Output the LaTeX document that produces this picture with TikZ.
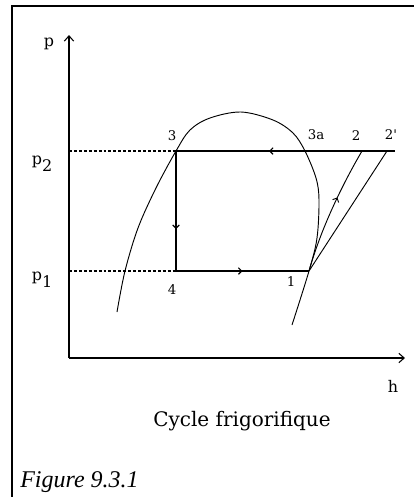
\documentclass[tikz,border=0pt]{standalone}
\usepackage{fontspec}
\setmainfont{DejaVu Serif}
\newfontfamily\capfont{Liberation Serif}
\usetikzlibrary{arrows.meta, calc, decorations.markings, positioning}

\tikzset{
    axisline/.style={line width=0.8pt, -{Straight Barb[length=4pt,width=7pt]}},
    cycleline/.style={line width=0.8pt},
    satcurve/.style={line width=0.7pt},
    guideline/.style={line width=0.8pt, dash pattern=on 2.2pt off 1.5pt},
    midarrow/.style={postaction={decorate}, decoration={markings,
        mark=at position #1 with {\arrow{Straight Barb[length=2.5pt,width=5pt]}}}},
    ptlabel/.style={inner sep=0pt, font=\fontsize{10}{12}\selectfont},
    axlabel/.style={inner sep=0pt, font=\fontsize{12}{14}\selectfont}
}

\begin{document}
\begin{tikzpicture}[x=0.75pt, y=-0.75pt]
    \useasboundingbox (0,0) rectangle (414,497);

    % Frame
    \draw[line width=1.5pt] (12,497) -- (12,5.5) -- (414,5.5);

    % Axes
    \coordinate (O) at (69,358);
    \draw[axisline] (O) -- (69,35);
    \draw[axisline] (O) -- (405,358);
    \node[axlabel] (ylab) at (49,44) {p};
    \node[axlabel] (xlab) at (393,386) {h};

    % Cycle points
    \coordinate (n3) at (176,151);
    \coordinate (n3a) at (305,151);
    \coordinate (n2) at (362,151);
    \coordinate (n2s) at (387,151);
    \coordinate (n4) at (176,271);
    \coordinate (n1) at (309,271);
    \coordinate (pa2) at (69,151);
    \coordinate (pa1) at (69,271);
    \coordinate (pend) at (395,151);

    % Pressure levels
    \draw[guideline] (pa2) -- (n3);
    \draw[guideline] (pa1) -- (n4);
    \node[axlabel] (lp2) at (42,164) {p\raisebox{-0.8ex}{2}};
    \node[axlabel] (lp1) at (42,280) {p\raisebox{-0.8ex}{1}};

    % Saturation curve
    \draw[satcurve] plot[smooth, tension=0.55] coordinates {
        (117,312) (125,271) (138,228) (156,188) (n3)
        (190,130) (210,118) (241,112) (273,120) (293,133) (n3a)
        (316,178) (319,200) (317,238) (n1) (292,325)};

    % Cycle
    \draw[cycleline, midarrow=0.5] (n2) -- (n3);
    \draw[cycleline] (n2s) -- (pend);
    \draw[cycleline] (n2) -- (n2s);
    \draw[cycleline, midarrow=0.65] (n3) -- (n4);
    \draw[cycleline, midarrow=0.5] (n4) -- (n1);
    \draw[satcurve, midarrow=0.6] (n1) .. controls (322,225) and (345,180) .. (n2);
    \draw[satcurve] (n1) -- (n2s);

    % Labels
    \node[ptlabel] (l3) at (172,136) {3};
    \node[ptlabel] (l3a) at (316,135) {3a};
    \node[ptlabel] (l2) at (356,136) {2};
    \node[ptlabel] (l2s) at (391,135) {2\textquotesingle};
    \node[ptlabel] (l4) at (172,290) {4};
    \node[ptlabel] (l1) at (291,282) {1};

    \node (title) at (242,421) {\fontsize{15}{18}\selectfont Cycle frigorifique};
    \node[anchor=base west, inner sep=0pt] (figlab) at (20,487)
        {\capfont\itshape\fontsize{18}{21}\selectfont Figure 9.3.1};
\end{tikzpicture}
\end{document}
